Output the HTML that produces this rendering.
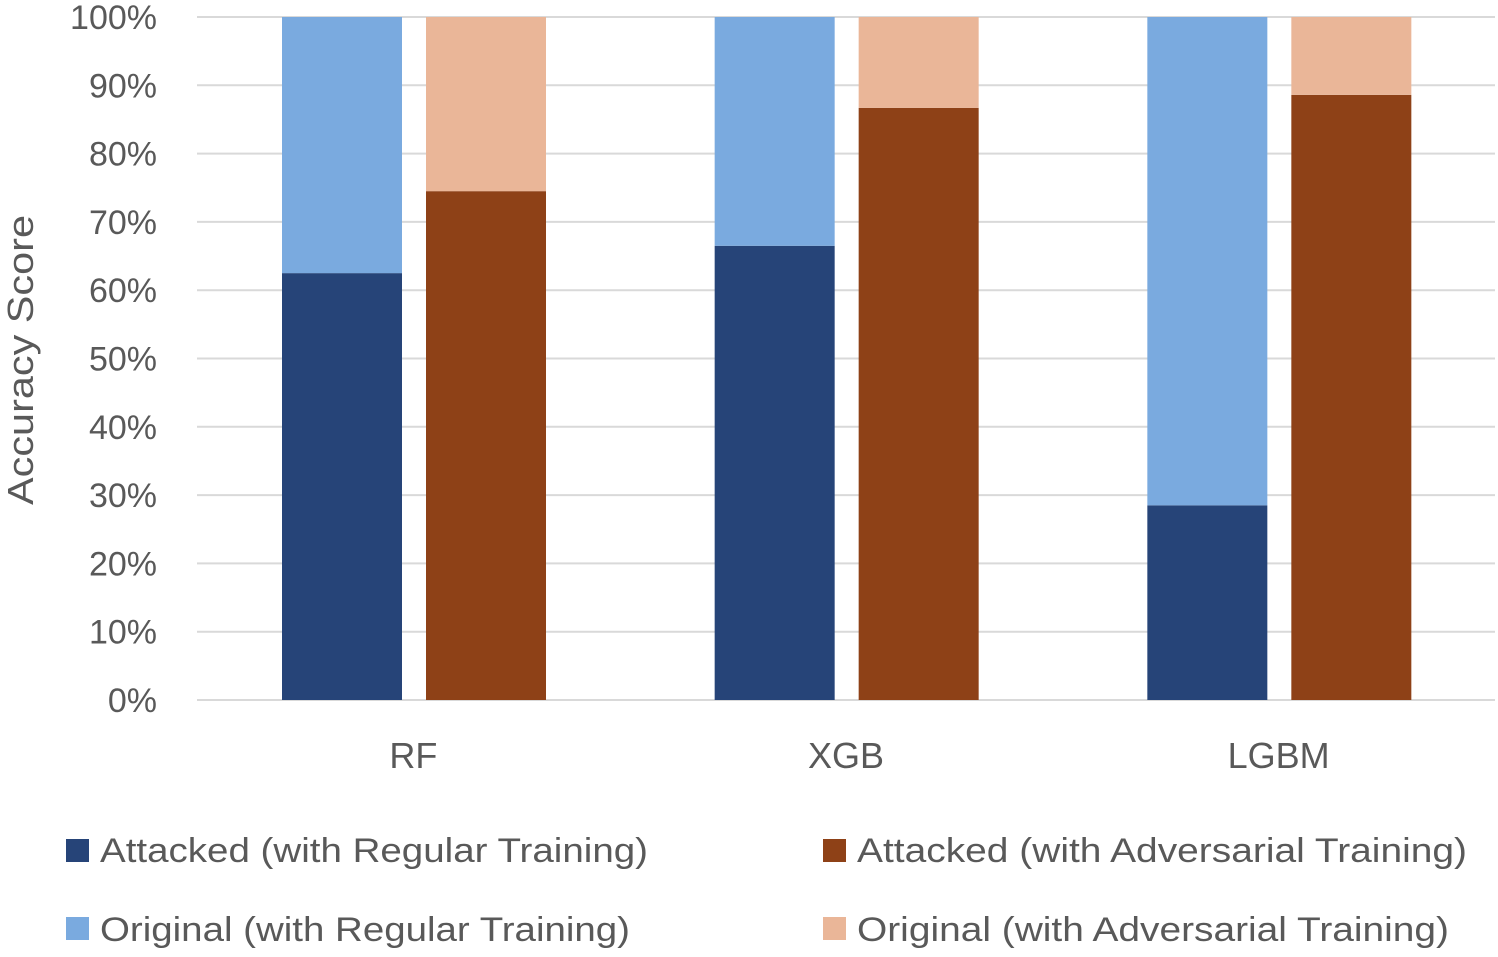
<!DOCTYPE html>
<html><head><meta charset="utf-8"><style>
html,body{margin:0;padding:0;background:#fff;}
svg text{font-family:"Liberation Sans",sans-serif;fill:#595959;}
</style></head><body>
<svg id="chart" width="1498" height="952" viewBox="0 0 1498 952" xmlns="http://www.w3.org/2000/svg">
<g id="grid"></g>
<g id="yticks"></g>
<g id="bars"></g>
<g id="xticks"></g>
<text transform="translate(33,360) rotate(-90)" text-anchor="middle" font-size="36" textLength="290" lengthAdjust="spacingAndGlyphs">Accuracy Score</text>
<g>
 <g><rect x="66" y="839" width="23" height="23" fill="#264478"/><text x="100" y="862" font-size="34" textLength="548" lengthAdjust="spacingAndGlyphs">Attacked (with Regular Training)</text></g>
 <g><rect x="823" y="839" width="23" height="23" fill="#8E4117"/><text x="857" y="862" font-size="34" textLength="610" lengthAdjust="spacingAndGlyphs">Attacked (with Adversarial Training)</text></g>
 <g><rect x="66" y="917" width="23" height="23" fill="#7AAADF"/><text x="100" y="941" font-size="34" textLength="530" lengthAdjust="spacingAndGlyphs">Original (with Regular Training)</text></g>
 <g><rect x="823" y="917" width="23" height="23" fill="#EAB698"/><text x="857" y="941" font-size="34" textLength="592" lengthAdjust="spacingAndGlyphs">Original (with Adversarial Training)</text></g>
</g>
</svg>
<script>
const categories = ["RF","XGB","LGBM"];
const attackedRegular = [62.5, 66.5, 28.5];
const attackedAdversarial = [74.5, 86.7, 88.6];
const originalRegular = [37.5, 33.5, 71.5];
const originalAdversarial = [25.5, 13.3, 11.4];
const yTicks = [0,10,20,30,40,50,60,70,80,90,100];

const NS="http://www.w3.org/2000/svg";
const plotL=197, plotR=1495, y0=700, y100=17;
const yScale=v=>y0-(v/100)*(y0-y100);
const catW=(plotR-plotL)/categories.length;
const xCat=i=>plotL+catW*i;
function mk(tag,attrs,parent){const e=document.createElementNS(NS,tag);for(const k in attrs)e.setAttribute(k,attrs[k]);parent.appendChild(e);return e;}
const grid=document.getElementById('grid'),yt=document.getElementById('yticks'),bars=document.getElementById('bars'),xt=document.getElementById('xticks');
yTicks.forEach(t=>{
 const l=mk('line',{x1:plotL,x2:plotR,y1:yScale(t),y2:yScale(t),stroke:'#d9d9d9','stroke-width':2},grid);
 
 
 const tx=mk('text',{x:157,y:yScale(t)+12,'text-anchor':'end','font-size':34},yt);
 tx.textContent=t+'%';
 
 
});
const barW=120;
function seg(x,lo,hi,color,name){
 const r=mk('rect',{x:x,y:yScale(hi),width:barW,height:yScale(lo)-yScale(hi),fill:color},bars);
 
 
}
categories.forEach((c,i)=>{
 const x1=xCat(i)+85, x2=xCat(i)+229;
 seg(x1,0,attackedRegular[i],'#264478','bar-attacked-regular-'+c.toLowerCase());
 seg(x1,attackedRegular[i],attackedRegular[i]+originalRegular[i],'#7AAADF','bar-original-regular-'+c.toLowerCase());
 seg(x2,0,attackedAdversarial[i],'#8E4117','bar-attacked-adversarial-'+c.toLowerCase());
 seg(x2,attackedAdversarial[i],attackedAdversarial[i]+originalAdversarial[i],'#EAB698','bar-original-adversarial-'+c.toLowerCase());
 const t=mk('text',{x:xCat(i)+catW/2,y:768,'text-anchor':'middle','font-size':36},xt);
 t.textContent=c;
 
 
});
</script>
</body></html>
